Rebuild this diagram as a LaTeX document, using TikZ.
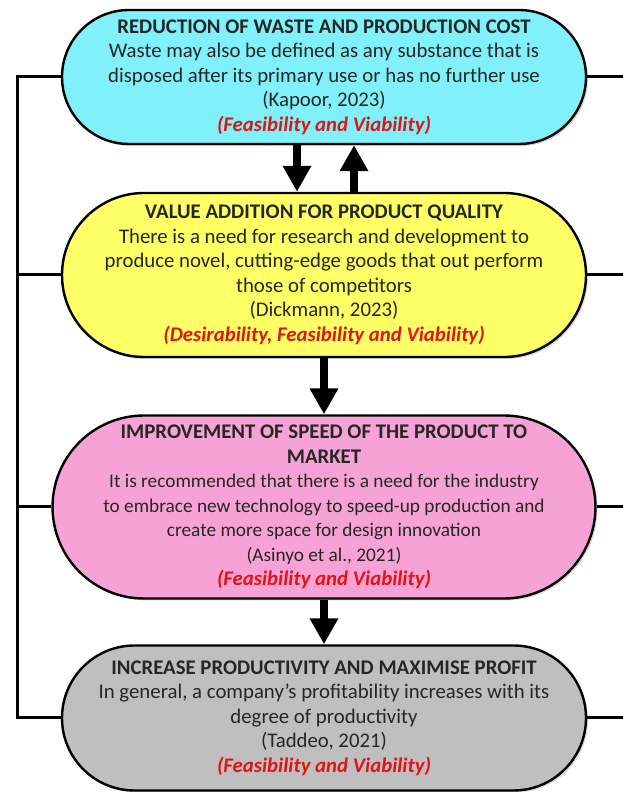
\documentclass[tikz,border=0pt]{standalone}
\usepackage{fontspec}
\setmainfont{Carlito}
\usetikzlibrary{shapes.misc,arrows.meta,shadows}
\definecolor{aqua}{RGB}{128,241,250}
\definecolor{lemon}{RGB}{255,255,102}
\definecolor{blush}{RGB}{246,162,214}
\definecolor{ash}{RGB}{191,191,191}
\definecolor{ink}{RGB}{38,38,38}
\definecolor{crit}{RGB}{225,20,20}
\newcommand{\crit}[1]{\textcolor{crit}{\textbf{\textit{#1}}}}
\newcommand{\fine}[1]{{\fontsize{19.3}{24.5}\selectfont #1}}
\tikzset{
  stage/.style={rounded rectangle, rounded rectangle arc length=180, draw=black, line width=2.4pt,
    minimum width=524pt, inner sep=0pt, align=center, text=ink,
    font=\fontsize{20.8}{24.5}\selectfont,
    drop shadow={opacity=0.3, shadow xshift=2pt, shadow yshift=-2pt}},
  link/.style={line width=3pt},
  flow/.style={line width=8pt, -{Triangle[width=27pt,length=26pt]}}
}
\begin{document}
\begin{tikzpicture}[x=1pt,y=1pt]
	\useasboundingbox (0,0) rectangle (623,792);
	\coordinate (bus) at (17,400);
	\coordinate (edge) at (623,400);
	% the four stages
	\node[stage, fill=aqua, minimum height=134pt] (waste) at (324,715) {\textbf{REDUCTION OF WASTE AND PRODUCTION COST}\\ Waste may also be defined as any substance that is\\ disposed after its primary use or has no further use\\ (Kapoor, 2023)\\ \crit{(Feasibility and Viability)}};
	\node[stage, fill=lemon, minimum height=164pt] (value) at (324,517) {\textbf{VALUE ADDITION FOR PRODUCT QUALITY}\\ There is a need for research and development to\\ produce novel, cutting-edge goods that out perform\\ those of competitors\\ (Dickmann, 2023)\\ \crit{(Desirability, Feasibility and Viability)}};
	\node[stage, fill=blush, minimum height=183pt] (speed) at (324,285) {\textbf{IMPROVEMENT OF SPEED OF THE PRODUCT TO}\\ \textbf{MARKET}\\ \fine{It is recommended that there is a need for the industry}\\ \fine{to embrace new technology to speed-up production and}\\ \fine{create more space for design innovation}\\ \fine{(Asinyo et al., 2021)}\\ \crit{(Feasibility and Viability)}};
	\node[stage, fill=ash, minimum height=145pt] (profit) at (324,74) {\textbf{INCREASE PRODUCTIVITY AND MAXIMISE PROFIT}\\ In general, a company’s profitability increases with its\\ degree of productivity\\ (Taddeo, 2021)\\ \crit{(Feasibility and Viability)}};
	% arrows between stages
	\draw[flow] ([xshift=-27pt]waste.south) -- ([xshift=-27pt]value.north);
	\draw[flow] ([xshift=30pt]value.north) -- ([xshift=30pt]waste.south);
	\draw[flow] (value.south) -- (speed.north);
	\draw[flow] (speed.south) -- (profit.north);
	% side lines
	\draw[link] (waste.west) -- (waste.west -| bus) -- (profit.west -| bus) -- (profit.west);
	\draw[link] (value.west) -- (value.west -| bus);
	\draw[link] (speed.west) -- (speed.west -| bus);
	\foreach \s in {waste,value,speed,profit}
		\draw[link] (\s.east) -- (\s.east -| edge);
\end{tikzpicture}
\end{document}
